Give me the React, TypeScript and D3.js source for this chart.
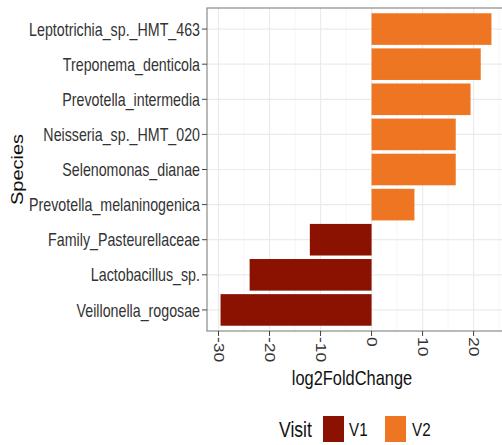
import React from "react";
import * as d3 from "d3";

const species = [
  "Leptotrichia_sp._HMT_463",
  "Treponema_denticola",
  "Prevotella_intermedia",
  "Neisseria_sp._HMT_020",
  "Selenomonas_dianae",
  "Prevotella_melaninogenica",
  "Family_Pasteurellaceae",
  "Lactobacillus_sp.",
  "Veillonella_rogosae",
];
const log2FC = [23.5, 21.4, 19.4, 16.5, 16.5, 8.4, -12.1, -23.9, -29.6];
const visit = ["V2", "V2", "V2", "V2", "V2", "V2", "V1", "V1", "V1"];
const visits = ["V1", "V2"];
const visitColors = ["#8B1200", "#EE7623"];
const majorTicks = [-30, -20, -10, 0, 10, 20];
const minorTicks = [-25, -15, -5, 5, 15, 25];

const W = 502;
const H = 445;
const FONT = "'Liberation Sans', Arial, sans-serif";
const SX = 0.8;

export default function App() {
  const left = 207, top = 8, bottom = 331, right = 505;
  const mn = d3.min(log2FC) as number;
  const mx = d3.max(log2FC) as number;
  const exp = (mx - mn) * 0.05;
  const x = d3.scaleLinear().domain([mn - exp, mx + exp]).range([left, right]);
  const y = d3.scaleBand<string>().domain(species).range([top, bottom]).paddingInner(0.1).paddingOuter(0.15);
  const color = d3.scaleOrdinal<string, string>().domain(visits).range(visitColors);
  const bw = y.bandwidth();

  return (
    <svg width={W} height={H} style={{ position: "absolute", left: 0, top: 0, background: "#fff" }} fontFamily={FONT}>
      <rect x={left} y={top} width={right - left} height={bottom - top} fill="#fff" />
      {minorTicks.map((t) => (
        <line key={"mi" + t} x1={x(t)} x2={x(t)} y1={top} y2={bottom} stroke="#F2F2F2" strokeWidth={0.7} />
      ))}
      {majorTicks.map((t) => (
        <line key={"ma" + t} x1={x(t)} x2={x(t)} y1={top} y2={bottom} stroke="#EBEBEB" strokeWidth={1.2} />
      ))}
      {species.map((s) => (
        <line key={"gy" + s} x1={left} x2={right} y1={(y(s) as number) + bw / 2} y2={(y(s) as number) + bw / 2} stroke="#EBEBEB" strokeWidth={1.2} />
      ))}
      {species.map((s, i) => {
        const v = log2FC[i];
        const x0 = x(Math.min(0, v));
        const x1 = x(Math.max(0, v));
        return (
          <rect key={"b" + s} x={x0} y={y(s) as number} width={x1 - x0} height={bw} fill={color(visit[i])} />
        );
      })}
      <rect x={left} y={top} width={right - left} height={bottom - top} fill="none" stroke="#8a8a8a" strokeWidth={1.2} />
      {species.map((s) => {
        const cy = (y(s) as number) + bw / 2;
        return (
          <g key={"yl" + s}>
            <line x1={left - 5} x2={left} y1={cy} y2={cy} stroke="#444" strokeWidth={1} />
            <text transform={`translate(${left - 7},${cy}) scale(${SX},1)`} textAnchor="end" dominantBaseline="central" fontSize={17.8} fill="#333">
              {s}
            </text>
          </g>
        );
      })}
      {majorTicks.map((t) => (
        <g key={"xl" + t}>
          <line x1={x(t)} x2={x(t)} y1={bottom} y2={bottom + 5} stroke="#444" strokeWidth={1} />
          <text transform={`translate(${x(t)},${bottom + 6}) scale(${SX},1) rotate(90)`} textAnchor="start" dominantBaseline="central" fontSize={17.5} fill="#333">
            {t}
          </text>
        </g>
      ))}
      <text transform={`translate(${(left + right) / 2 - 4},378) scale(${SX},1)`} textAnchor="middle" dominantBaseline="central" fontSize={20.5} fill="#111">
        log2FoldChange
      </text>
      <text transform={`translate(18,${(top + bottom) / 2}) scale(${SX},1) rotate(-90)`} textAnchor="middle" dominantBaseline="central" fontSize={20} fill="#111">
        Species
      </text>
      <text transform={`translate(279,429) scale(${SX},1)`} textAnchor="start" dominantBaseline="central" fontSize={22} fill="#111">
        Visit
      </text>
      {visits.map((v, i) => (
        <g key={"lg" + v}>
          <rect x={323 + i * 62} y={416} width={21} height={26} fill={color(v)} />
          <text transform={`translate(${349 + i * 63},429) scale(${SX},1)`} textAnchor="start" dominantBaseline="central" fontSize={19} fill="#111">
            {v}
          </text>
        </g>
      ))}
    </svg>
  );
}
